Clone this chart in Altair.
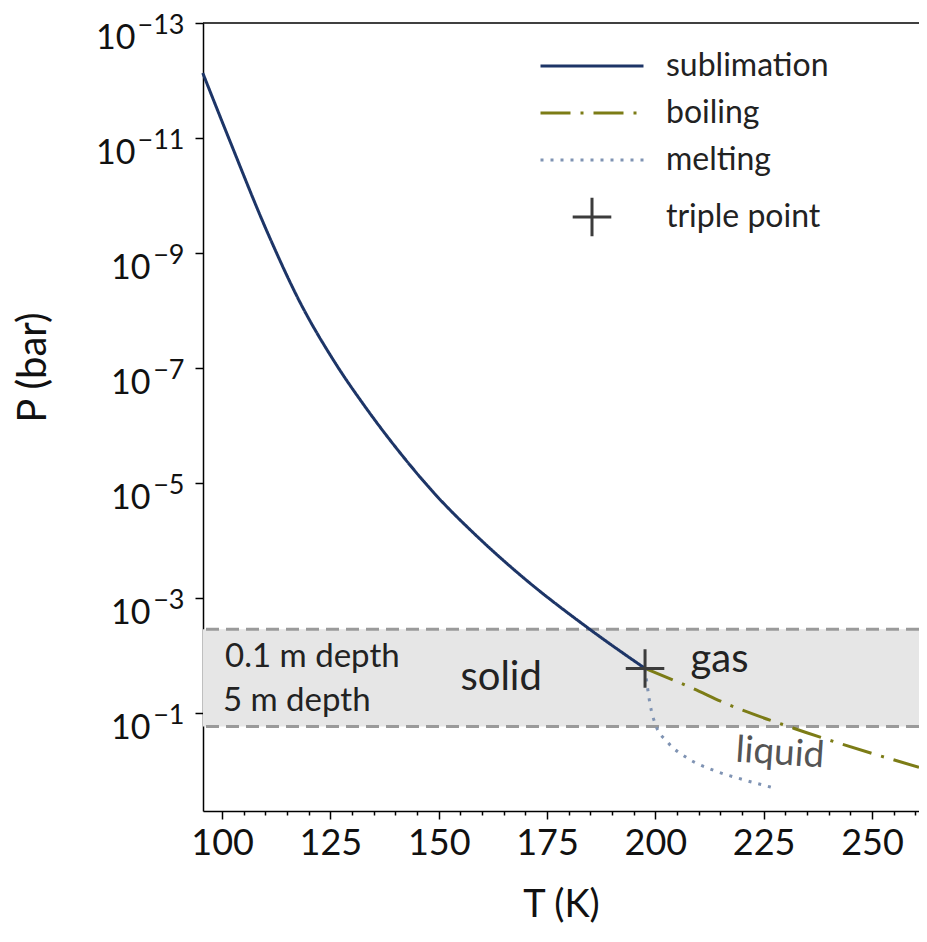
import altair as alt
import pandas as pd

# ---- data (T in K, log10 of P in bar) ----
sub_T = [95.55, 101.64, 110.64, 118.02, 125.78, 133.30, 140.85, 149.39, 158.37, 168.71, 184.86, 197.62]
sub_logP = [-12.13, -10.98, -9.33, -8.14, -7.13, -6.30, -5.55, -4.79, -4.11, -3.41, -2.46, -1.78]

boil_T = [197.62, 208.1, 216.6, 231.9, 260.85]
boil_logP = [-1.78, -1.45, -1.16, -0.74, -0.06]

melt_T = [197.62, 198.8, 200.0, 202.8, 207.4, 213.4, 220.1, 227.0]
melt_logP = [-1.78, -1.15, -0.81, -0.50, -0.22, -0.01, 0.15, 0.29]

triple_T = [197.62]
triple_logP = [-1.78]

band_logP = [-2.46, -0.77]  # 0.1 m depth, 5 m depth

series_names = ["sublimation", "boiling", "melting", "triple point"]
series_colors = ["#1d3567", "#7c7c16", "#7f93b3", "#3c3c3c"]
series_dash = [[1, 0], [30, 10, 3, 10], [3, 7], [1, 0]]
series_shape = ["M-4,0H4", "M-4,0H4", "M-4,0H4", "M-1.5,0H1.5M0,-1.5V1.5"]

x_ticks = list(range(100, 265, 5))
y_ticks = [1e-13, 1e-11, 1e-9, 1e-7, 1e-5, 1e-3, 1e-1]

ann_text = ["0.1 m depth", "5 m depth"]
ann_T = [100.7, 100.2]
ann_logP = [-1.81, -1.04]

phase_text = ["solid", "gas"]
phase_T = [164.4, 214.8]
phase_logP = [-1.40, -1.71]

liq_text = ["liquid"]
liq_T = [228.6]
liq_logP = [-0.11]

W, H = 716, 788
FONT = "Lato"

rows = []
for name, Ts, Ls in [("sublimation", sub_T, sub_logP), ("boiling", boil_T, boil_logP), ("melting", melt_T, melt_logP)]:
    for t, l in zip(Ts, Ls):
        rows.append({"series": name, "T": t, "P": 10 ** l})
lines_df = pd.DataFrame(rows)
tp_df = pd.DataFrame({"series": ["triple point"], "T": triple_T, "P": [10 ** v for v in triple_logP]})
band_df = pd.DataFrame({"P1": [10 ** band_logP[0]], "P2": [10 ** band_logP[1]]})
edge_df = pd.DataFrame({"P": [10 ** v for v in band_logP]})
ann_df = pd.DataFrame({"text": ann_text, "T": ann_T, "P": [10 ** v for v in ann_logP]})
phase_df = pd.DataFrame({"text": phase_text, "T": phase_T, "P": [10 ** v for v in phase_logP]})
liq_df = pd.DataFrame({"text": liq_text, "T": liq_T, "P": [10 ** v for v in liq_logP]})
ytick_df = pd.DataFrame({"P": y_ticks})

x_scale = alt.Scale(domain=[95.6, 260.85], nice=False, zero=False)
y_scale = alt.Scale(type="log", domain=[1e-13, 5.0], reverse=True, nice=False)

x_axis = alt.Axis(
    values=x_ticks,
    labelExpr="datum.value % 25 === 0 ? datum.label : ''",
    tickSize={"condition": {"test": "datum.value % 25 === 0", "value": 8}, "value": 4},
    labelPadding=7,
    labelFontSize=36,
    title="T (K)",
    titleX=W / 2,
    titleY=105,
    titleBaseline="alphabetic",
    titleAnchor="middle",
    titleFontSize=38,
    grid=False,
)
# mantissa "10" of the y tick labels
y_axis = alt.Axis(
    orient="left",
    values=y_ticks,
    labelExpr="'10'",
    tickSize=8,
    labelPadding={"condition": {"test": "datum.value < 1e-9", "value": 60}, "value": 45},
    labelBaseline="alphabetic",
    labelOffset=25,
    labelFontSize=34,
    title="P (bar)",
    titleX=-170,
    titleY=344,
    titleAngle=270,
    titleAlign="center",
    titleBaseline="middle",
    titleFontSize=40,
    grid=False,
)
# exponent of the y tick labels
exp_axis = alt.Axis(
    orient="left",
    values=y_ticks,
    labelExpr="'\u2212' + abs(round(log(datum.value) / LN10))",
    domain=False,
    ticks=True,
    tickSize=8,
    tickOpacity=0,
    labelPadding=11,
    labelBaseline="alphabetic",
    labelOffset=10,
    labelFontSize=27,
    title=None,
    grid=False,
)

X = alt.X("T:Q", scale=x_scale, axis=x_axis)
Y = alt.Y("P:Q", scale=y_scale, axis=y_axis)

leg = alt.Legend(
    title=None,
    orient="none",
    legendX=373,
    legendY=27,
    labelFontSize=32,
    labelFont=FONT,
    labelColor="#222222",
    labelLimit=0,
    symbolSize=663,
    symbolStrokeWidth=3,
    labelOffset=58,
    rowPadding=15,
)
color = alt.Color("series:N", scale=alt.Scale(domain=series_names, range=series_colors), legend=leg)
dash = alt.StrokeDash("series:N", scale=alt.Scale(domain=series_names, range=series_dash), legend=leg)
shape = alt.Shape("series:N", scale=alt.Scale(domain=series_names, range=series_shape), legend=leg)

band = alt.Chart(band_df).mark_rect(color="#e6e6e6").encode(
    y=alt.Y("P1:Q", scale=y_scale, axis=y_axis), y2="P2:Q"
)
edges = alt.Chart(edge_df).mark_rule(color="#9a9a9a", strokeWidth=3, strokeDash=[13, 7]).encode(
    y=alt.Y("P:Q", scale=y_scale, axis=y_axis)
)
lines = alt.Chart(lines_df).mark_line(strokeWidth=3, interpolate="monotone").encode(
    x=X, y=Y, color=color, strokeDash=dash, detail="series:N"
)
tp = alt.Chart(tp_df).mark_point(filled=False, size=660, strokeWidth=3, opacity=1).encode(
    x=X, y=Y, color=color, shape=shape
)
ann = alt.Chart(ann_df).mark_text(font=FONT, fontSize=33, align="left", baseline="alphabetic", color="#222222").encode(
    x=X, y=Y, text="text:N"
)
phase = alt.Chart(phase_df).mark_text(font=FONT, fontSize=40, align="center", baseline="alphabetic", color="#222222").encode(
    x=X, y=Y, text="text:N"
)
liq = alt.Chart(liq_df).mark_text(font=FONT, fontSize=37, align="center", baseline="alphabetic", angle=4, color="#555555").encode(
    x=X, y=Y, text="text:N"
)
top = alt.Chart(pd.DataFrame({"a": [0]})).mark_rule(color="black", strokeWidth=1.5).encode(
    x=alt.value(0), x2=alt.value(W), y=alt.value(0)
)

main = alt.layer(band, edges, lines, tp, ann, phase, liq, top)
exps = alt.Chart(ytick_df).mark_point(opacity=0).encode(
    y=alt.Y("P:Q", scale=y_scale, axis=exp_axis)
)

chart = alt.layer(main, exps).resolve_axis(y="independent").properties(
    width=W,
    height=H,
    padding={"left": 195, "top": 15, "right": 0, "bottom": 115},
    autosize=alt.AutoSizeParams(type="none"),
).configure_view(stroke=None).configure_axis(
    labelFont=FONT,
    titleFont=FONT,
    titleFontWeight="normal",
    labelColor="#111111",
    titleColor="#111111",
    domainColor="black",
    domainWidth=1.5,
    tickColor="black",
    tickWidth=1.5,
)

chart.save("out.html", embed_options={"renderer": "svg", "actions": False})
